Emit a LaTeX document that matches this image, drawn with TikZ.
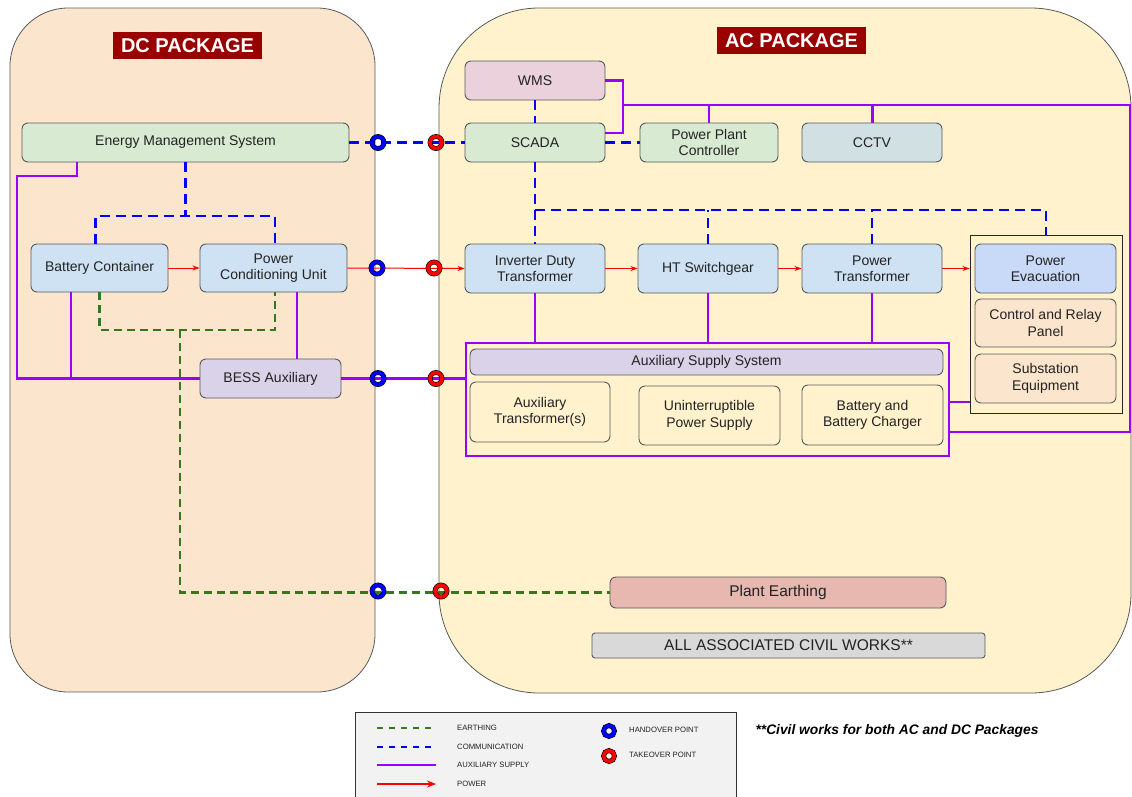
\documentclass[tikz,border=0pt]{standalone}
\usepackage{fontspec}
\setmainfont{Liberation Sans}
\usetikzlibrary{arrows.meta}
\definecolor{dcbg}{HTML}{FCE5CD}
\definecolor{acbg}{HTML}{FFF2CC}
\definecolor{titlered}{HTML}{990000}
\definecolor{ngreen}{HTML}{D9EAD3}
\definecolor{nblue}{HTML}{CFE2F3}
\definecolor{npurple}{HTML}{D9D2E9}
\definecolor{npink}{HTML}{EAD1DC}
\definecolor{ncctv}{HTML}{D0E0E3}
\definecolor{npe}{HTML}{C9DAF8}
\definecolor{nearth}{HTML}{E6B8AF}
\definecolor{ngray}{HTML}{D9D9D9}
\definecolor{auxc}{HTML}{9900FF}
\definecolor{commc}{HTML}{0000FF}
\definecolor{earthc}{HTML}{38761D}
\definecolor{powc}{HTML}{FF0000}
\definecolor{strokec}{HTML}{595959}
\definecolor{txt}{HTML}{222222}
\tikzset{
  pkg/.style={draw=strokec, line width=0.8pt},
  box/.style={draw=strokec, rounded corners=6pt, line width=0.9pt, align=center, inner sep=0pt,
    text=txt, font=\fontsize{14}{16.5}\selectfont},
  ttl/.style={fill=titlered, text=white, inner sep=0pt, font=\fontsize{20}{22}\selectfont\bfseries},
  comm/.style={draw=commc, line width=2.6pt, dash pattern=on 10pt off 6pt},
  earthl/.style={draw=earthc, line width=2.2pt, dash pattern=on 8pt off 5pt},
  aux/.style={draw=auxc, line width=2.4pt},
  pow/.style={draw=powc, line width=1pt, -{Stealth[length=7pt,width=5pt]}},
  hand/.style={circle, minimum size=12pt, inner sep=0pt, draw=black, line width=0.6pt, double=commc, double distance=3.6pt},
  take/.style={circle, minimum size=12pt, inner sep=0pt, draw=black, line width=0.6pt, double=powc, double distance=3.6pt},
  legtxt/.style={anchor=west, inner sep=0pt, text=txt, font=\fontsize{7.7}{9}\selectfont},
}
\begin{document}
\begin{tikzpicture}[x=1pt,y=-1pt]
\useasboundingbox (0,0) rectangle (1132,796);
% packages
\draw[pkg, fill=dcbg, rounded corners=58pt] (10,8) rectangle (375,692);
\draw[pkg, fill=acbg, rounded corners=100pt] (439,8) rectangle (1131,693);
\node[ttl, minimum width=149pt, minimum height=27pt] (dct) at (187.5,45.5) {DC PACKAGE};
\node[ttl, minimum width=149pt, minimum height=27pt] (act) at (791.5,40.5) {AC PACKAGE};

% nodes
\node[box, fill=ngreen, minimum width=327pt, minimum height=39pt] (ems) at (185.5,142.5) {Energy Management System};
\node[box, fill=nblue, minimum width=137pt, minimum height=48pt] (bc) at (99.5,268) {Battery Container};
\node[box, fill=nblue, minimum width=147pt, minimum height=48pt] (pcu) at (273.5,268) {Power\\Conditioning Unit};
\node[box, fill=npurple, minimum width=141pt, minimum height=39pt] (bess) at (270.5,378.5) {BESS Auxiliary};

\node[box, fill=npink, minimum width=140pt, minimum height=39pt] (wms) at (535,80.5) {WMS};
\node[box, fill=ngreen, minimum width=140pt, minimum height=39pt] (scada) at (535,142.5) {SCADA};
\node[box, fill=ngreen, minimum width=138pt, minimum height=39pt] (ppc) at (709,142.5) {Power Plant\\Controller};
\node[box, fill=ncctv, minimum width=140pt, minimum height=39pt] (cctv) at (872,142.5) {CCTV};

\node[box, fill=nblue, minimum width=140pt, minimum height=49pt] (idt) at (535,268.5) {Inverter Duty\\Transformer};
\node[box, fill=nblue, minimum width=140pt, minimum height=49pt] (hts) at (708,268.5) {HT Switchgear};
\node[box, fill=nblue, minimum width=140pt, minimum height=49pt] (pt) at (872,268.5) {Power\\Transformer};

\node[draw=black!85, line width=0.9pt, fill=acbg, minimum width=152pt, minimum height=178pt, inner sep=0pt] (pebox) at (1046,324) {};
\node[box, fill=npe, minimum width=141pt, minimum height=49pt] (pe) at (1045.5,268.5) {Power\\Evacuation};
\node[box, fill=dcbg, minimum width=141pt, minimum height=48pt] (crp) at (1045.5,323) {Control and Relay\\Panel};
\node[box, fill=dcbg, minimum width=141pt, minimum height=49pt] (se) at (1045.5,378.5) {Substation\\Equipment};

\node[draw=auxc, line width=2.8pt, fill=acbg, minimum width=483pt, minimum height=113pt, inner sep=0pt] (auxbox) at (707.5,399.5) {};
\node[box, fill=npurple, minimum width=473pt, minimum height=26pt] (ass) at (706.5,362) {Auxiliary Supply System};
\node[box, fill=acbg, minimum width=140pt, minimum height=60pt] (atr) at (540,412) {Auxiliary\\Transformer(s)};
\node[box, fill=acbg, minimum width=141pt, minimum height=59pt] (ups) at (709.5,415.5) {Uninterruptible\\Power Supply};
\node[box, fill=acbg, minimum width=141pt, minimum height=60pt] (bbc) at (872.5,415) {Battery and\\Battery Charger};

\node[box, fill=nearth, minimum width=336pt, minimum height=31pt, font=\fontsize{15.5}{18}\selectfont] (earth) at (778,592.5) {Plant Earthing};
\node[box, fill=ngray, rounded corners=3pt, minimum width=393pt, minimum height=25pt, font=\fontsize{15.5}{18}\selectfont] (civil) at (788.5,645.5) {ALL ASSOCIATED CIVIL WORKS**};

% helper coordinates
\coordinate (cy216) at (0,216);
\coordinate (cy210) at (535,210);
\coordinate (cy330) at (180,330);
\coordinate (a1) at (77,176);
\coordinate (a2) at (17,176);
\coordinate (a3) at (71,0);
\coordinate (a4) at (297,0);
\coordinate (a5) at (0,402);
\coordinate (b1) at (623,133);
\coordinate (b2) at (623,105);
\coordinate (b3) at (1130,105);
\coordinate (b4) at (0,432);

% communication
\draw[comm] (ems.east) -- (scada.west);
\draw[comm] (scada.east) -- (ppc.west);
\draw[comm] (wms.south) -- (scada.north);
\draw[comm] (scada.south) -- (idt.north);
\draw[comm] (cy210) -| (pebox.north);
\draw[comm] (hts.north) -- (hts.north |- cy210);
\draw[comm] (pt.north) -- (pt.north |- cy210);
\draw[comm] (ems.south) -- (ems.south |- cy216);
\draw[comm] ([xshift=-4pt]bc.north) |- (ems.south |- cy216) -| ([xshift=1.5pt]pcu.north);

% earthing
\draw[earthl] (bc.south) |- ([xshift=1.5pt]pcu.south |- cy330) -- ([xshift=1.5pt]pcu.south);
\draw[earthl] (cy330) |- (earth.west);

% auxiliary supply
\draw[aux] (ems.south -| a1) -- (a1) -- (a2) |- (bess.west);
\draw[aux] (bc.south -| a3) -- (a3 |- bess.west);
\draw[aux] (pcu.south -| a4) -- (bess.north -| a4);
\draw[aux] (bess.east) -- (bess.east -| auxbox.west);
\draw[aux] (idt.south) -- (idt.south |- auxbox.north);
\draw[aux] (hts.south) -- (hts.south |- auxbox.north);
\draw[aux] (pt.south) -- (pt.south |- auxbox.north);
\draw[aux] (auxbox.east |- a5) -- (pebox.west |- a5);
\draw[aux] (wms.east) -| (b1) -- (scada.east |- b1);
\draw[aux] (b2) -- (b3) |- (auxbox.east |- b4);
\draw[aux] (ppc.north) -- (ppc.north |- b2);
\draw[aux, line width=3pt] (cctv.north) -- (cctv.north |- b2);

% power
\draw[pow] (bc.east) -- (pcu.west);
\draw[pow] (pcu.east) -- (idt.west);
\draw[pow] (idt.east) -- (hts.west);
\draw[pow] (hts.east) -- (pt.west);
\draw[pow] (pt.east) -- (pt.east -| pebox.west);

% handover / takeover points
\node[hand] (h1) at (378,142.5) {};
\node[take] (t1) at (436,142.5) {};
\node[hand] (h2) at (377,268) {};
\node[take] (t2) at (434,268) {};
\node[hand] (h3) at (378,378.5) {};
\node[take] (t3) at (436,378.5) {};
\node[hand] (h4) at (378,591) {};
\node[take] (t4) at (441,591) {};

% legend
\draw[draw=black!80, line width=0.9pt, fill=black!5] (355,712) rectangle (736,800);
\coordinate (l1a) at (377,728); \coordinate (l1b) at (436,728);
\coordinate (l2a) at (377,747); \coordinate (l2b) at (436,747);
\coordinate (l3a) at (377,765); \coordinate (l3b) at (436,765);
\coordinate (l4a) at (377,784); \coordinate (l4b) at (436,784);
\draw[earthl, line width=1.8pt, dash pattern=on 6pt off 6pt] (l1a) -- (l1b);
\draw[comm, line width=1.8pt, dash pattern=on 6pt off 6pt] (l2a) -- (l2b);
\draw[aux, line width=1.6pt] (l3a) -- (l3b);
\draw[pow, line width=1.4pt, -{Stealth[length=9pt,width=7pt]}] (l4a) -- (l4b);
\node[legtxt] (lg1) at (457,728) {EARTHING};
\node[legtxt] (lg2) at (457,747) {COMMUNICATION};
\node[legtxt] (lg3) at (457,765) {AUXILIARY SUPPLY};
\node[legtxt] (lg4) at (457,784) {POWER};
\node[hand, minimum size=11pt] (lh) at (609,731) {};
\node[take, minimum size=11pt] (lt) at (609,756) {};
\node[legtxt] (lg5) at (629,730) {HANDOVER POINT};
\node[legtxt] (lg6) at (629,755) {TAKEOVER POINT};
\node[inner sep=0pt, text=black, font=\fontsize{13.8}{16}\selectfont\bfseries\itshape] (note) at (897,731) {**Civil works for both AC and DC Packages};
\end{tikzpicture}
\end{document}
